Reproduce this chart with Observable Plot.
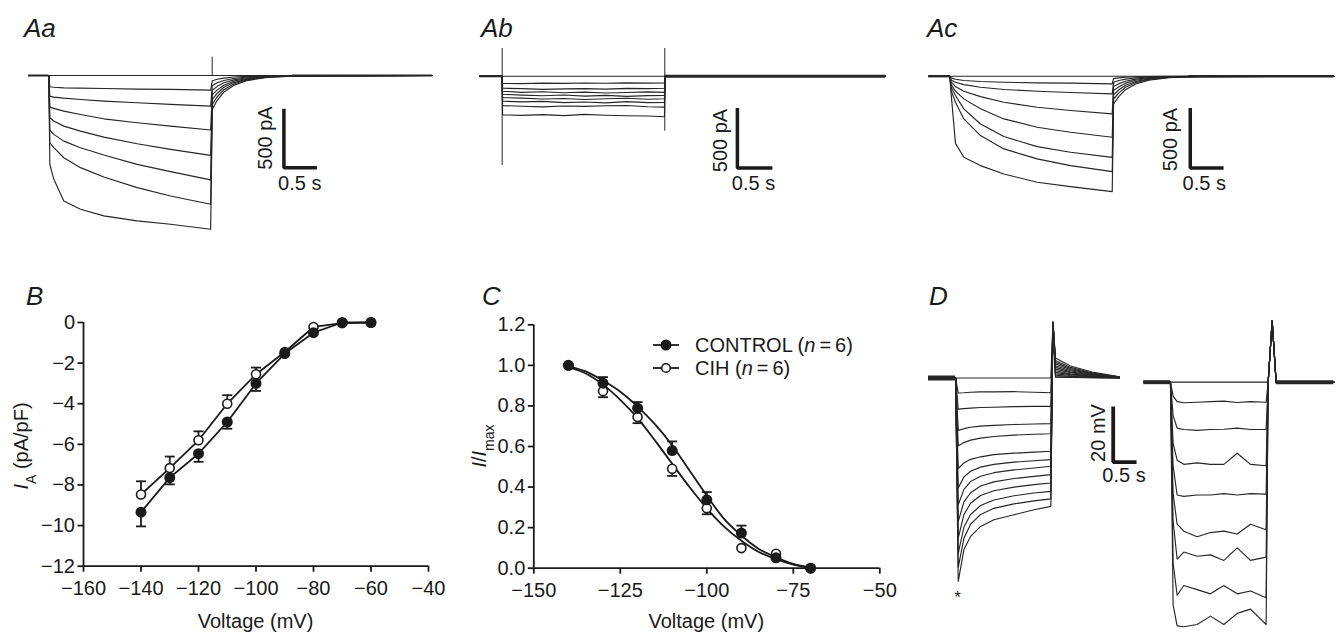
<!DOCTYPE html>
<html><head><meta charset="utf-8">
<script src="https://cdn.jsdelivr.net/npm/d3@7"></script>
<script src="https://cdn.jsdelivr.net/npm/@observablehq/plot@0.6"></script>
<style>
body{margin:0;background:#fff;}
#fig{position:relative;width:1341px;height:636px;overflow:hidden;background:#fff;}
.panel{position:absolute;}
.panel svg{display:block;overflow:visible;}
</style></head><body><div id="fig"></div>
<script>
// ---------------- DATA ----------------
// Aa: control cell, hyperpolarizing steps (time s, current pA)
const aaTime = [0, 0.308, 0.323, 0.384, 0.535, 0.788, 1.141, 1.646, 2.152, 2.76, 2.785, 2.86, 2.96, 3.11, 3.31, 3.61, 4.01, 6.12];
const aaTraces = [
  [0,0, 0,0,0,0,0,0,0,0, 0,0,0,0,0,0,0,0],
  [0,0, -95,-100,-105,-107,-110,-115,-118,-124, -45,-32,-22,-13,-7,-3,-1,0],
  [0,0, -175,-183,-192,-203,-217,-231,-245,-259, -85,-62,-42,-25,-13,-5,-2,0],
  [0,0, -268,-279,-302,-330,-367,-400,-429,-462, -125,-92,-62,-37,-19,-8,-2,0],
  [0,0, -358,-386,-429,-471,-522,-578,-626,-677, -165,-122,-82,-48,-25,-10,-3,0],
  [0,0, -462,-499,-556,-612,-674,-753,-815,-885, -205,-150,-100,-60,-31,-12,-4,0],
  [0,0, -570,-612,-697,-781,-860,-950,-1021,-1091, -245,-180,-120,-72,-37,-14,-4,0],
  [0,0, -753,-880,-1063,-1134,-1190,-1232,-1261,-1303, -285,-210,-140,-84,-43,-17,-5,0]
];
const aaSpikes = [{t: 2.783, hi: 155, lo: 0}];

// Ab: same cell with blocker (time s, current pA)
const abTime = [0, 0.32, 0.325, 0.6, 0.9, 1.2, 1.5, 1.8, 2.1, 2.4, 2.638, 2.648, 5.796];
const abTraces = [
  [0,0, 0,0,0,0,0,0,0,0,0, 0,0],
  [0,0, -60,-62,-58,-60,-57,-59,-56,-58,-56, 0,0],
  [0,0, -100,-104,-110,-106,-103,-108,-101,-104,-100, 0,0],
  [0,0, -125,-135,-130,-138,-133,-140,-136,-131,-135, 0,0],
  [0,0, -150,-158,-163,-157,-166,-160,-168,-162,-160, 0,0],
  [0,0, -178,-183,-190,-186,-194,-188,-184,-192,-188, 0,0],
  [0,0, -208,-214,-210,-220,-215,-222,-212,-220,-218, 0,0],
  [0,0, -245,-250,-256,-248,-252,-246,-244,-255,-258, 0,0],
  [0,0, -322,-326,-320,-328,-318,-325,-330,-332,-338, 0,0]
];
const abSpikes = [{t: 0.32, hi: 231, lo: -744}, {t: 2.643, hi: 231, lo: -458}];

// Ac: CIH cell (time s, current pA)
const acTime = [0, 0.315, 0.335, 0.40, 0.525, 0.775, 1.125, 1.625, 2.125, 2.75, 2.77, 2.85, 2.95, 3.1, 3.3, 3.6, 4.0, 6.072];
const acTraces = [
  [0,0, 0,0,0,0,0,0,0,0, 0,0,0,0,0,0,0,0],
  [0,0, -14,-25,-36,-44,-50,-56,-58,-64, -20,-14,-9,-5,-3,-1,0,0],
  [0,0, -31,-50,-70,-92,-111,-125,-136,-147, -50,-36,-24,-14,-7,-3,-1,0],
  [0,0, -50,-86,-125,-170,-217,-259,-286,-314, -85,-62,-42,-24,-12,-5,-1,0],
  [0,0, -70,-125,-189,-272,-356,-425,-467,-509, -120,-88,-58,-34,-17,-7,-2,0],
  [0,0, -92,-161,-272,-398,-503,-587,-634,-676, -155,-113,-75,-44,-22,-9,-3,0],
  [0,0, -120,-217,-356,-495,-606,-689,-745,-795, -190,-139,-92,-54,-27,-11,-3,0],
  [0,0, -147,-560,-676,-745,-815,-884,-920,-962, -230,-168,-112,-65,-33,-13,-4,0]
];

// B: I-V relation (mV, pA/pF)
const bVoltage = [-140, -130, -120, -110, -100, -90, -80, -70, -60];
const bControl = [-9.34, -7.64, -6.46, -4.9, -3.0, -1.53, -0.5, 0, 0];
const bControlErr = [0.7, 0.33, 0.4, 0.33, 0.37, 0.1, 0.1, 0, 0];
const bCih = [-8.47, -7.17, -5.8, -4.0, -2.55, -1.45, -0.22, -0.03, 0];
const bCihErr = [0.65, 0.57, 0.44, 0.42, 0.33, 0.1, 0.1, 0, 0];
const bXTicks = [-160, -140, -120, -100, -80, -60, -40];
const bYTicks = [0, -2, -4, -6, -8, -10, -12];

// C: activation (mV, I/Imax)
const cVoltage = [-140, -130, -120, -110, -100, -90, -80, -70];
const cControl = [1.0, 0.912, 0.789, 0.58, 0.337, 0.173, 0.051, 0];
const cControlErr = [0, 0.03, 0.03, 0.045, 0.038, 0.037, 0.01, 0];
const cCih = [1.0, 0.873, 0.745, 0.49, 0.296, 0.099, 0.071, 0];
const cCihErr = [0, 0.03, 0.03, 0.035, 0.03, 0, 0.01, 0];
const cFitVoltage = [-140, -135, -130, -125, -120, -115, -110, -105, -100, -95, -90, -85, -80, -75, -70];
const cFitControl = [0.995, 0.97, 0.925, 0.87, 0.797, 0.71, 0.605, 0.482, 0.358, 0.243, 0.161, 0.095, 0.054, 0.021, 0.002];
const cFitCih = [0.99, 0.96, 0.905, 0.83, 0.74, 0.63, 0.515, 0.40, 0.295, 0.205, 0.135, 0.08, 0.045, 0.018, 0.002];
const cXTicks = [-150, -125, -100, -75, -50];
const cYTicks = [0, 0.2, 0.4, 0.6, 0.8, 1.0, 1.2];
const cSeries = ["CONTROL", "CIH"];

// D: current clamp (time s, mV relative to rest)
const dLeftTime = [0, 0.58, 0.637, 0.759, 0.901, 1.116, 1.40, 1.83, 2.26, 2.62, 2.665, 2.72, 3.04, 3.54, 4.09];
const dLeftTraces = [
  [0,0, 0,0,0,0,0,0,0,0, 20, 0.3,0.2,0.1,0],
  [0,0, -5.4,-5.3,-5.1,-5.0,-5.0,-4.9,-5.1,-5.3, 20, 0.5,0.3,0.1,0],
  [0,0, -11.2,-11.0,-10.8,-10.6,-10.5,-10.3,-10.2,-10.2, 20, 1.0,0.6,0.2,0],
  [0,0, -18.8,-18.2,-17.7,-17.3,-17.0,-16.7,-16.5,-16.4, 20, 1.5,0.9,0.4,0.1],
  [0,0, -24.3,-23.2,-22.3,-21.6,-21.0,-20.5,-20.2,-20.0, 20, 2.0,1.2,0.5,0.1],
  [0,0, -32.5,-30.5,-29.2,-28.3,-27.5,-27.0,-26.6,-26.3, 20, 2.6,1.5,0.6,0.1],
  [0,0, -39.5,-35.5,-33.5,-32.0,-31.0,-30.2,-29.7,-29.3, 20, 3.2,1.9,0.8,0.2],
  [0,0, -45.5,-40.0,-37.2,-35.3,-34.0,-33.0,-32.3,-31.7, 20, 3.8,2.2,0.9,0.2],
  [0,0, -51.5,-44.5,-41.2,-38.8,-37.3,-36.1,-35.3,-34.7, 20, 4.4,2.6,1.1,0.2],
  [0,0, -57.5,-49.0,-45.0,-42.2,-40.5,-39.2,-38.3,-37.7, 20, 5.0,3.0,1.3,0.3],
  [0,0, -63.0,-53.5,-49.0,-45.8,-43.8,-42.3,-41.3,-40.7, 20, 5.6,3.4,1.5,0.3],
  [0,0, -68.0,-57.5,-52.5,-49.0,-46.8,-45.2,-44.1,-43.4, 20, 6.3,3.8,1.7,0.4],
  [0,0, -73.0,-61.6,-56.9,-53.3,-50.9,-49.1,-47.3,-46.1, 20, 7.2,4.3,2.0,0.4]
];
const dRightTime = [0, 0.571, 0.628, 0.714, 0.857, 1.142, 1.428, 1.714, 2.0, 2.285, 2.62, 2.663, 2.749, 2.834, 4.07];
const dRightTraces = [
  [0,0, 0,0,0,0,0,0,0,0,0, 0,22,0,0],
  [0,0, -5,-7.0,-7.4,-7.2,-7.0,-6.8,-7.3,-7.0,-7.2, 0,22,0,0],
  [0,0, -12,-16.5,-17,-17.3,-17,-16.9,-16.5,-17,-17, 0,22,0,0],
  [0,0, -22,-28,-29.5,-29,-29.5,-29.5,-25.5,-29.5,-30, 0,22,0,0],
  [0,0, -30,-40.5,-41,-40.5,-40.5,-40,-40.5,-40,-40.2, 0,22,0,0],
  [0,0, -40,-51,-53.5,-55.5,-54,-53.5,-54.5,-51,-53, 0,22,0,0],
  [0,0, -50,-63.5,-61,-62.5,-62,-64,-59.5,-64,-62.8, 0,22,0,0],
  [0,0, -65,-76.5,-73,-74.5,-76,-73,-76,-75,-77.4, 0,22,0,0],
  [0,0, -80,-87.5,-87.8,-87,-84,-87,-83,-81.5,-87, 0,22,0,0]
];

// ---------------- LAYOUT ----------------
const FONT = '"Liberation Sans", Arial, Helvetica, sans-serif';
const INK = "#1a1a1a";
const TRACE = "#262626";
const baseStyle = {fontFamily: FONT, fontSize: "20px", background: "transparent", overflow: "visible", color: INK};
const fig = document.getElementById("fig");
function place(svg, left, top, width, height) {
  const d = document.createElement("div");
  d.className = "panel";
  Object.assign(d.style, {left: left + "px", top: top + "px", width: width + "px", height: height + "px"});
  d.appendChild(svg);
  fig.appendChild(d);
}
function rows(time, traces, dt = 0, dv = 0) {
  return traces.flatMap((vals, k) => vals.map((v, i) => ({t: time[i] + dt, v: v + dv, k})));
}
function scaleBar(bar, ampText, durText) {
  const pts = [{t: bar.t, v: bar.hi}, {t: bar.t, v: bar.hi - bar.amp}, {t: bar.t + bar.dur, v: bar.hi - bar.amp}];
  return [
    Plot.line(pts, {x: "t", y: "v", stroke: INK, strokeWidth: bar.w, strokeLinejoin: "miter", strokeLinecap: "butt"}),
    Plot.text([bar], {x: "ampT", y: "ampV", text: () => ampText, rotate: -90, fontSize: 20, fill: INK}),
    Plot.text([bar], {x: "durT", y: "durV", text: () => durText, fontSize: 20, fill: INK})
  ];
}
function tracePanel(o) {
  const svg = Plot.plot({
    width: o.width, height: o.height, margin: 0,
    x: {domain: o.xDomain, range: o.xRange, axis: null},
    y: {domain: o.yDomain, range: o.yRange, axis: null},
    style: baseStyle,
    marks: o.marks
  });
  place(svg, o.left, o.top, o.width, o.height);
}
const traceLine = (data) => Plot.line(data, {x: "t", y: "v", z: "k", stroke: TRACE, strokeWidth: 1.15});
const thickBase = (segs, w) => Plot.ruleY(segs, {y: 0, x1: "a", x2: "b", stroke: TRACE, strokeWidth: w});

// Aa
tracePanel({
  left: 0, top: 0, width: 447, height: 260,
  xDomain: [0, 6.12], xRange: [28, 431.9], yDomain: [-1500, 300], yRange: [252, 39.6],
  marks: [
    traceLine(rows(aaTime, aaTraces)),
    thickBase([{a: 0, b: 0.308}, {a: 4.0, b: 6.12}], 2),
    Plot.ruleX(aaSpikes, {x: "t", y1: "lo", y2: "hi", stroke: TRACE, strokeWidth: 1}),
    ...scaleBar({t: 3.87, hi: -282, amp: 500, dur: 0.5, w: 3.5, ampT: 3.59, ampV: -530, durT: 4.11, durV: -918}, "500 pA", "0.5 s")
  ]
});
// Ab
tracePanel({
  left: 447, top: 0, width: 447, height: 260,
  xDomain: [0, 5.796], xRange: [32.3, 438], yDomain: [-1500, 300], yRange: [255.7, 39.7],
  marks: [
    traceLine(rows(abTime, abTraces)),
    thickBase([{a: 0, b: 0.32}], 2.2),
    thickBase([{a: 2.648, b: 5.796}], 3),
    Plot.ruleX(abSpikes, {x: "t", y1: "lo", y2: "hi", stroke: TRACE, strokeWidth: 1}),
    ...scaleBar({t: 3.68, hi: -265, amp: 500, dur: 0.5, w: 3.5, ampT: 3.44, ampV: -536, durT: 3.91, durV: -897}, "500 pA", "0.5 s")
  ]
});
// Ac
tracePanel({
  left: 894, top: 0, width: 447, height: 260,
  xDomain: [0, 6.072], xRange: [34.3, 439.3], yDomain: [-1500, 300], yRange: [255.7, 39.7],
  marks: [
    traceLine(rows(acTime, acTraces)),
    thickBase([{a: 0, b: 0.315}, {a: 3.9, b: 6.072}], 2.4),
    ...scaleBar({t: 3.92, hi: -265, amp: 500, dur: 0.5, w: 3.5, ampT: 3.62, ampV: -528, durT: 4.13, durV: -897}, "500 pA", "0.5 s")
  ]
});
// D (left and right trace families share one plot; right family drawn after a gap)
const dRightShift = 4.61, dRightDrop = -1.5;
tracePanel({
  left: 890, top: 270, width: 451, height: 366,
  xDomain: [0, 9], xRange: [38, 458.3], yDomain: [-100, 30], yRange: [386, 23.95],
  marks: [
    traceLine(rows(dLeftTime, dLeftTraces)),
    traceLine(rows(dRightTime, dRightTraces, dRightShift, dRightDrop)),
    thickBase([{a: 0, b: 0.58}], 5),
    Plot.ruleY([{a: dRightShift, b: dRightShift + 0.571}, {a: dRightShift + 2.834, b: dRightShift + 4.07}], {y: dRightDrop, x1: "a", x2: "b", stroke: TRACE, strokeWidth: 4}),
    Plot.text([{t: 0.62, v: -79}], {x: "t", y: "v", text: () => "*", fontSize: 17, fill: INK}),
    ...scaleBar({t: 3.955, hi: -10.2, amp: 20, dur: 0.5, w: 3.8, ampT: 3.65, ampV: -19.75, durT: 4.186, durV: -35}, "20 mV", "0.5 s")
  ]
});

// error-bar cap symbol (horizontal dash)
const capSymbol = {draw(ctx, size) { const w = Math.sqrt(size / Math.PI); ctx.moveTo(-w, 0); ctx.lineTo(w, 0); }};
function errMarks(data, dir, capR, minErr) {
  const d = data.filter(r => r.e > minErr);
  const end = r => dir === "down" ? r.m - r.e : r.m + r.e;
  return [
    Plot.ruleX(d, {x: "v", y1: "m", y2: end, stroke: INK, strokeWidth: 1.8}),
    Plot.dot(d, {x: "v", y: end, symbol: capSymbol, r: capR, fill: "none", stroke: INK, strokeWidth: 1.8})
  ];
}

// B
{
  const ctrl = bVoltage.map((v, i) => ({v, m: bControl[i], e: bControlErr[i]}));
  const cih = bVoltage.map((v, i) => ({v, m: bCih[i], e: bCihErr[i]}));
  const svg = Plot.plot({
    width: 440, height: 366, marginLeft: 83, marginRight: 12, marginTop: 52, marginBottom: 70.3,
    style: baseStyle,
    x: {domain: [-160, -40], label: null}, y: {domain: [-12, 0], label: null},
    marks: [
      Plot.axisX({ticks: bXTicks, tickSize: 6, tickPadding: 9, strokeWidth: 1.8, label: null, fontSize: 20}),
      Plot.axisY({ticks: bYTicks, tickSize: 5.5, tickPadding: 3, strokeWidth: 1.8, label: null, fontSize: 20}),
      Plot.ruleX([{x: -160, a: -12, b: 0}], {x: "x", y1: "a", y2: "b", stroke: INK, strokeWidth: 1.8}),
      Plot.ruleY([{y: -12, a: -160, b: -40}], {y: "y", x1: "a", x2: "b", stroke: INK, strokeWidth: 1.8}),
      Plot.line(ctrl, {x: "v", y: "m", stroke: INK, strokeWidth: 1.8}),
      Plot.line(cih, {x: "v", y: "m", stroke: INK, strokeWidth: 1.8}),
      ...errMarks(ctrl, "down", 5, 0.15),
      ...errMarks(cih, "up", 5, 0.15),
      Plot.dot(cih, {x: "v", y: "m", r: 4.5, fill: "white", stroke: INK, strokeWidth: 1.6}),
      Plot.dot(ctrl, {x: "v", y: "m", r: 5.5, fill: INK})
    ]
  });
  place(svg, 0, 270, 440, 366);
}
// C
{
  const ctrl = cVoltage.map((v, i) => ({v, m: cControl[i], e: cControlErr[i]}));
  const cih = cVoltage.map((v, i) => ({v, m: cCih[i], e: cCihErr[i]}));
  const fitC = cFitVoltage.map((v, i) => ({v, m: cFitControl[i]}));
  const fitH = cFitVoltage.map((v, i) => ({v, m: cFitCih[i]}));
  const svg = Plot.plot({
    width: 460, height: 366, marginLeft: 93.3, marginRight: 20.7, marginTop: 54.3, marginBottom: 68.3,
    style: baseStyle,
    x: {domain: [-150, -50], label: null}, y: {domain: [0, 1.2], label: null},
    marks: [
      Plot.axisX({ticks: cXTicks, tickSize: 6, tickPadding: 9, strokeWidth: 1.8, label: null, fontSize: 20}),
      Plot.axisY({ticks: cYTicks, tickFormat: d3.format(".1f"), tickSize: 5.5, tickPadding: 3, strokeWidth: 1.8, label: null, fontSize: 20}),
      Plot.ruleX([{x: -150, a: 0, b: 1.2}], {x: "x", y1: "a", y2: "b", stroke: INK, strokeWidth: 1.8}),
      Plot.ruleY([{y: 0, a: -150, b: -50}], {y: "y", x1: "a", x2: "b", stroke: INK, strokeWidth: 1.8}),
      Plot.line(fitC, {x: "v", y: "m", curve: "monotone-x", stroke: INK, strokeWidth: 1.8}),
      Plot.line(fitH, {x: "v", y: "m", curve: "monotone-x", stroke: INK, strokeWidth: 1.8}),
      ...errMarks(ctrl, "up", 5, 0.012),
      ...errMarks(cih, "down", 5, 0.012),
      Plot.dot(cih, {x: "v", y: "m", r: 4.5, fill: "white", stroke: INK, strokeWidth: 1.6}),
      Plot.dot(ctrl, {x: "v", y: "m", r: 5.5, fill: INK})
    ]
  });
  place(svg, 440, 270, 460, 366);
}

// ---------------- TEXT OVERLAY ----------------
const ov = d3.select("#fig").append("svg")
  .attr("width", 1341).attr("height", 636)
  .style("position", "absolute").style("left", 0).style("top", 0)
  .style("pointer-events", "none")
  .attr("font-family", FONT).attr("fill", INK);
[["Aa", 24, 37], ["Ab", 481, 37], ["Ac", 927, 37], ["B", 26, 305], ["C", 482, 305], ["D", 929, 305]]
  .forEach(([t, x, y]) => ov.append("text").attr("x", x).attr("y", y).attr("font-size", 26).attr("font-style", "italic").text(t));
[255.5, 706.3].forEach(x => ov.append("text").attr("x", x).attr("y", 628).attr("text-anchor", "middle").attr("font-size", 20).text("Voltage (mV)"));
{
  const t = ov.append("text").attr("transform", "translate(28,446) rotate(-90)").attr("text-anchor", "middle").attr("font-size", 20);
  t.append("tspan").attr("font-style", "italic").text("I");
  t.append("tspan").attr("font-size", 14).attr("baseline-shift", "sub").text("A");
  t.append("tspan").text(" (pA/pF)");
}
{
  const t = ov.append("text").attr("transform", "translate(486,446) rotate(-90)").attr("text-anchor", "middle").attr("font-size", 20);
  t.append("tspan").attr("font-style", "italic").text("I");
  t.append("tspan").text("/");
  t.append("tspan").attr("font-style", "italic").text("I");
  t.append("tspan").attr("font-size", 14).attr("baseline-shift", "sub").text("max");
}
// legend for C
cSeries.forEach((name, i) => {
  const y = 345 + i * 23;
  ov.append("line").attr("x1", 653).attr("x2", 679).attr("y1", y).attr("y2", y).attr("stroke", INK).attr("stroke-width", 1.8);
  ov.append("circle").attr("cx", 666).attr("cy", y).attr("r", i === 0 ? 5.5 : 4.3)
    .attr("fill", i === 0 ? INK : "white").attr("stroke", INK).attr("stroke-width", i === 0 ? 0 : 1.6);
  const t = ov.append("text").attr("x", 695).attr("y", y + 7).attr("font-size", 20);
  t.append("tspan").text(name + " (");
  t.append("tspan").attr("font-style", "italic").text("n");
  t.append("tspan").text("\u2009=\u20096)");
});
</script></body></html>
